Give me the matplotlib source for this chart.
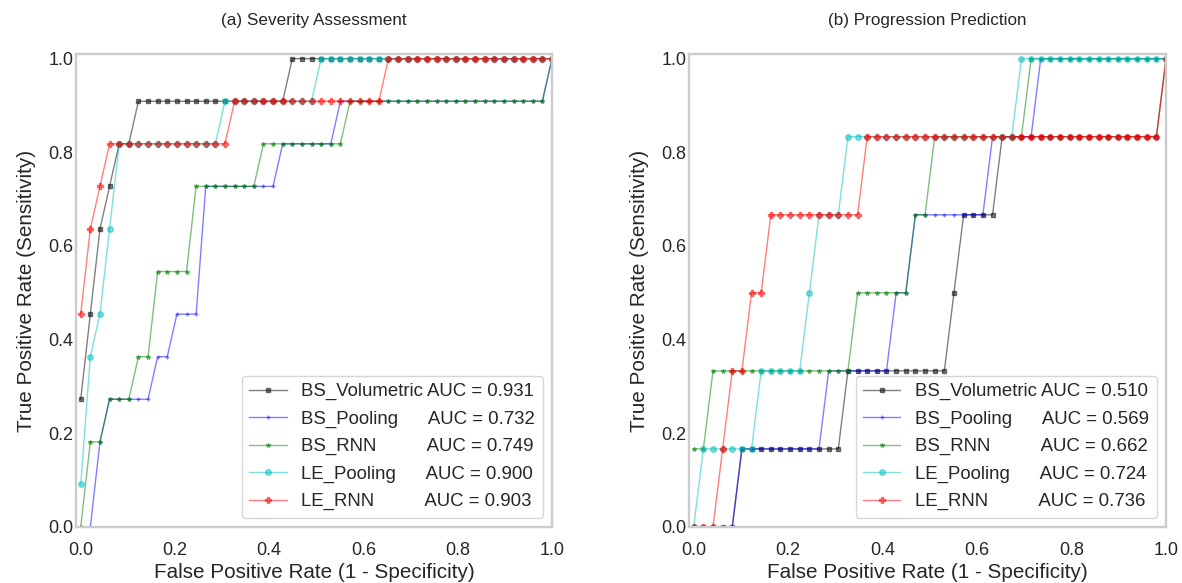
import numpy as np
import matplotlib
matplotlib.use("Agg")
import matplotlib.pyplot as plt

plt.rcParams['font.family'] = ['Liberation Sans', 'DejaVu Sans']
plt.rcParams['text.color'] = '.15'
plt.rcParams['axes.labelcolor'] = '.15'
plt.rcParams['xtick.color'] = '.15'
plt.rcParams['ytick.color'] = '.15'

# ---------------- data ----------------
n_neg = 49                      # FPR grid step = 1/49
fpr = np.arange(n_neg + 1) / n_neg

models = ["BS_Volumetric", "BS_Pooling", "BS_RNN", "LE_Pooling", "LE_RNN"]

# (a) Severity Assessment : true-positive counts out of 11 positives
sev_npos = 11
sev_bs_volumetric = [3, 5, 7, 8, 9, 9, 10, 10, 10, 10,
                     10, 10, 10, 10, 10, 10, 10, 10, 10, 10,
                     10, 10, 11, 11, 11, 11, 11, 11, 11, 11,
                     11, 11, 11, 11, 11, 11, 11, 11, 11, 11,
                     11, 11, 11, 11, 11, 11, 11, 11, 11, 11]
sev_bs_pooling = [0, 0, 2, 3, 3, 3, 3, 3, 4, 4,
                  5, 5, 5, 8, 8, 8, 8, 8, 8, 8,
                  8, 9, 9, 9, 9, 9, 9, 10, 10, 10,
                  10, 10, 10, 10, 10, 10, 10, 10, 10, 10,
                  10, 10, 10, 10, 10, 10, 10, 10, 10, 11]
sev_bs_rnn = [0, 2, 2, 3, 3, 3, 4, 4, 6, 6,
              6, 6, 8, 8, 8, 8, 8, 8, 8, 9,
              9, 9, 9, 9, 9, 9, 9, 9, 10, 10,
              10, 10, 10, 10, 10, 10, 10, 10, 10, 10,
              10, 10, 10, 10, 10, 10, 10, 10, 10, 11]
sev_le_pooling = [1, 4, 5, 7, 9, 9, 9, 9, 9, 9,
                  9, 9, 9, 9, 9, 10, 10, 10, 10, 10,
                  10, 10, 10, 10, 10, 11, 11, 11, 11, 11,
                  11, 11, 11, 11, 11, 11, 11, 11, 11, 11,
                  11, 11, 11, 11, 11, 11, 11, 11, 11, 11]
sev_le_rnn = [5, 7, 8, 9, 9, 9, 9, 9, 9, 9,
              9, 9, 9, 9, 9, 9, 10, 10, 10, 10,
              10, 10, 10, 10, 10, 10, 10, 10, 10, 10,
              10, 10, 11, 11, 11, 11, 11, 11, 11, 11,
              11, 11, 11, 11, 11, 11, 11, 11, 11, 11]
sev_auc = [0.931, 0.732, 0.749, 0.900, 0.903]

# (b) Progression Prediction : true-positive counts out of 6 positives
prog_npos = 6
prog_bs_volumetric = [0, 0, 0, 0, 0, 1, 1, 1, 1, 1,
                      1, 1, 1, 1, 1, 1, 2, 2, 2, 2,
                      2, 2, 2, 2, 2, 2, 2, 3, 4, 4,
                      4, 4, 5, 5, 5, 5, 5, 5, 5, 5,
                      5, 5, 5, 5, 5, 5, 5, 5, 5, 6]
prog_bs_pooling = [0, 0, 0, 0, 0, 1, 1, 1, 1, 1,
                   1, 1, 1, 1, 2, 2, 2, 2, 2, 2,
                   2, 3, 3, 4, 4, 4, 4, 4, 4, 4,
                   4, 5, 5, 5, 5, 5, 6, 6, 6, 6,
                   6, 6, 6, 6, 6, 6, 6, 6, 6, 6]
prog_bs_rnn = [1, 1, 2, 2, 2, 2, 2, 2, 2, 2,
               2, 2, 2, 2, 2, 2, 2, 3, 3, 3,
               3, 3, 3, 4, 4, 5, 5, 5, 5, 5,
               5, 5, 5, 5, 5, 6, 6, 6, 6, 6,
               6, 6, 6, 6, 6, 6, 6, 6, 6, 6]
prog_le_pooling = [0, 1, 1, 1, 1, 1, 1, 2, 2, 2,
                   2, 2, 3, 4, 4, 4, 5, 5, 5, 5,
                   5, 5, 5, 5, 5, 5, 5, 5, 5, 5,
                   5, 5, 5, 5, 6, 6, 6, 6, 6, 6,
                   6, 6, 6, 6, 6, 6, 6, 6, 6, 6]
prog_le_rnn = [0, 0, 0, 1, 2, 2, 3, 3, 4, 4,
               4, 4, 4, 4, 4, 4, 4, 4, 5, 5,
               5, 5, 5, 5, 5, 5, 5, 5, 5, 5,
               5, 5, 5, 5, 5, 5, 5, 5, 5, 5,
               5, 5, 5, 5, 5, 5, 5, 5, 5, 6]
prog_auc = [0.510, 0.569, 0.662, 0.724, 0.736]

titles = ["(a) Severity Assessment", "(b) Progression Prediction"]
ticks = [0.0, 0.2, 0.4, 0.6, 0.8, 1.0]
tick_labels = ["0.0", "0.2", "0.4", "0.6", "0.8", "1.0"]

# label padding so that the AUC parts line up (proportional font)
pads = [1, 6, 10, 6, 10]

# ---------------- style ----------------
colors = ['k', 'b', 'g', 'c', 'r']
markers = ['s', '+', '*', 'o', 'P']
msizes = [3.2, 3.0, 3.2, 4.0, 4.8]

fig = plt.figure(figsize=(11.82, 5.83), dpi=100)
axes = [fig.add_axes([0.0643, 0.0961, 0.4027, 0.8113]),
        fig.add_axes([0.5829, 0.0961, 0.4036, 0.8113])]

panels = [
    (sev_npos, [sev_bs_volumetric, sev_bs_pooling, sev_bs_rnn, sev_le_pooling, sev_le_rnn], sev_auc),
    (prog_npos, [prog_bs_volumetric, prog_bs_pooling, prog_bs_rnn, prog_le_pooling, prog_le_rnn], prog_auc),
]

for ax, (npos, series, aucs), title in zip(axes, panels, titles):
    for k, (name, tp, auc) in enumerate(zip(models, series, aucs)):
        tpr = np.array(tp) / npos
        label = name + " " * pads[k] + "AUC = %.3f" % auc
        ax.plot(fpr, tpr, color=colors[k], marker=markers[k], ms=msizes[k],
                lw=1.0, alpha=0.5, label=label)
    ax.set_xlim(-0.01, 1.0)
    ax.set_ylim(0.0, 1.01)
    ax.set_xticks(ticks)
    ax.set_xticklabels(tick_labels)
    ax.set_yticks(ticks)
    ax.set_yticklabels(tick_labels)
    ax.tick_params(length=0, labelsize=13)
    ax.tick_params(axis='x', pad=11)
    ax.tick_params(axis='y', pad=2)
    for sp in ax.spines.values():
        sp.set_color('.8')
        sp.set_linewidth(1.7)
    ax.set_xlabel("False Positive Rate (1 - Specificity)", fontsize=14.9, labelpad=3)
    ax.set_ylabel("True Positive Rate (Sensitivity)", fontsize=14.9, labelpad=9)
    ax.set_title(title, fontsize=12.3, pad=21)
    leg = ax.legend(loc='lower right', fontsize=13.4, labelspacing=0.55,
                    frameon=True, fancybox=True)
    leg.get_frame().set_edgecolor('.8')

fig.savefig("out.png", dpi=100)
